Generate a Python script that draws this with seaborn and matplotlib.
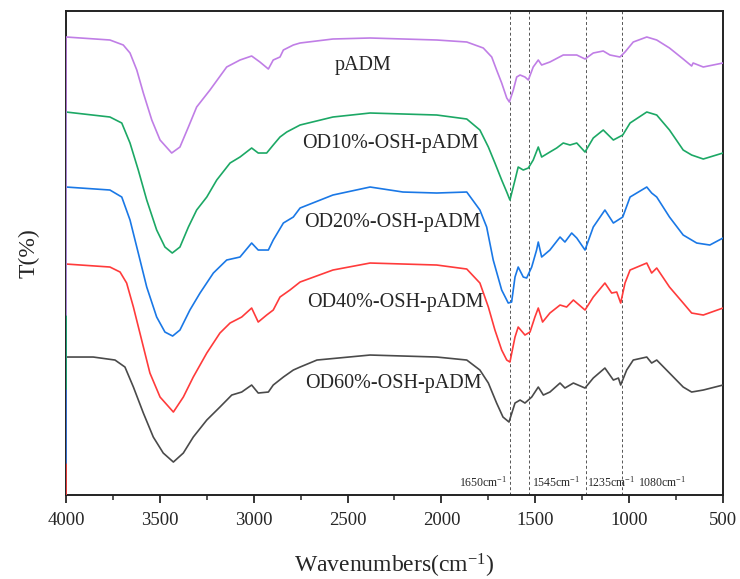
import numpy as np
import pandas as pd
import seaborn as sns
import matplotlib
matplotlib.use("Agg")
import matplotlib.pyplot as plt

# FTIR spectra (offset transmittance, arbitrary units)
wn_padm = [4000, 4000, 3766, 3695, 3659, 3623, 3588, 3543, 3499, 3437, 3393, 3348, 3304, 3233, 3144,
           3073, 3011, 2967, 2922, 2896, 2860, 2842, 2789, 2753, 2578, 2380, 2025, 1865, 1777, 1732,
           1706, 1679, 1652, 1638, 1617, 1599, 1581, 1555, 1537, 1511, 1484, 1466, 1422, 1351, 1279,
           1235, 1191, 1138, 1102, 1049, 1022, 978, 906, 853, 785, 712, 667, 659, 605, 500]
t_padm = [180, 458, 455, 450, 442, 425, 402, 375, 355, 342, 348, 368, 388, 405, 428,
          435, 439, 433, 426, 435, 438, 445, 450, 452, 456, 457, 455, 453, 447, 438,
          425, 412, 397, 393, 405, 418, 420, 418, 415, 428, 435, 430, 433, 440, 440,
          436, 442, 444, 440, 438, 443, 453, 458, 455, 447, 436, 429, 432, 428, 432]

wn_od10 = [4000, 4000, 3766, 3703, 3659, 3615, 3570, 3517, 3473, 3434, 3393, 3348, 3304, 3250, 3197,
           3126, 3073, 3011, 2976, 2931, 2896, 2860, 2824, 2753, 2578, 2380, 2025, 1865, 1795, 1750,
           1715, 1679, 1652, 1635, 1608, 1591, 1564, 1537, 1511, 1484, 1466, 1422, 1386, 1351, 1315,
           1279, 1235, 1191, 1138, 1084, 1034, 995, 906, 853, 785, 712, 667, 605, 500]
t_od10 = [106, 383, 378, 372, 352, 325, 295, 265, 248, 242, 248, 268, 285, 298, 315,
          332, 338, 347, 342, 342, 350, 358, 363, 370, 378, 382, 380, 376, 365, 348,
          332, 315, 303, 295, 315, 328, 325, 327, 335, 348, 338, 343, 347, 352, 350,
          352, 343, 357, 365, 355, 360, 372, 383, 380, 365, 345, 340, 336, 342]

wn_od20 = [4000, 4000, 3766, 3703, 3659, 3615, 3570, 3517, 3473, 3432, 3393, 3340, 3286, 3215, 3144,
           3073, 3011, 2976, 2922, 2896, 2842, 2789, 2753, 2578, 2380, 2205, 2025, 1865, 1795, 1759,
           1724, 1679, 1644, 1626, 1608, 1591, 1564, 1546, 1519, 1493, 1484, 1466, 1422, 1368, 1342,
           1306, 1279, 1235, 1191, 1129, 1084, 1034, 995, 906, 880, 853, 785, 712, 640, 570, 500]
t_od20 = [32, 308, 305, 298, 275, 242, 208, 178, 163, 159, 165, 185, 202, 222, 235,
          238, 252, 245, 245, 255, 272, 278, 287, 300, 308, 303, 302, 303, 285, 268,
          235, 205, 192, 193, 218, 228, 218, 217, 228, 245, 253, 238, 245, 258, 253,
          262, 257, 245, 268, 285, 272, 278, 298, 308, 302, 298, 278, 260, 252, 250, 257]

wn_od40 = [4000, 4000, 3766, 3712, 3677, 3641, 3597, 3553, 3499, 3428, 3375, 3322, 3250, 3180, 3126,
           3064, 3011, 2976, 2931, 2896, 2860, 2807, 2753, 2578, 2380, 2025, 1865, 1795, 1750, 1715,
           1679, 1652, 1635, 1608, 1591, 1555, 1528, 1502, 1484, 1461, 1422, 1368, 1333, 1297, 1235,
           1191, 1129, 1093, 1066, 1045, 1022, 995, 906, 880, 853, 785, 712, 667, 605, 500]
t_od40 = [-45, 231, 228, 223, 212, 188, 155, 122, 98, 83, 98, 118, 142, 162, 172,
          178, 187, 173, 180, 185, 198, 205, 213, 225, 232, 230, 226, 212, 188, 165,
          145, 135, 133, 158, 168, 160, 163, 178, 187, 173, 182, 190, 188, 195, 185,
          198, 212, 202, 203, 192, 212, 225, 232, 222, 227, 208, 192, 182, 180, 187]

wn_od60 = [4000, 4000, 3855, 3739, 3686, 3641, 3588, 3535, 3482, 3428, 3375, 3322, 3250, 3180, 3117,
           3064, 3011, 2976, 2922, 2896, 2842, 2789, 2753, 2663, 2380, 2025, 1865, 1795, 1750, 1706,
           1672, 1640, 1608, 1581, 1555, 1519, 1484, 1457, 1422, 1368, 1342, 1297, 1235, 1191, 1129,
           1084, 1057, 1045, 1013, 978, 906, 880, 853, 785, 712, 667, 605, 500]
t_od60 = [-140, 138, 138, 135, 128, 108, 82, 58, 42, 33, 42, 58, 75, 88, 100,
          103, 110, 102, 103, 110, 118, 125, 128, 135, 140, 138, 135, 125, 112, 92,
          78, 73, 92, 95, 92, 98, 108, 100, 103, 112, 107, 112, 107, 117, 127,
          115, 117, 110, 125, 135, 138, 132, 135, 122, 108, 103, 105, 110]

samples = ["OD60%-OSH-pADM", "OD40%-OSH-pADM", "OD20%-OSH-pADM", "OD10%-OSH-pADM", "pADM"]
colors = ["#4a4a4a", "#ff3b3b", "#1a78e6", "#1ca865", "#c07ee6"]
label_wn = [2258, 2247, 2263, 2274, 2418]
label_t = [112, 193, 273, 352, 430]

peak_pos = [1636, 1536, 1232, 1036]
peak_txt = ["1650cm$^{-1}$", "1545cm$^{-1}$", "1235cm$^{-1}$", "1080cm$^{-1}$"]
peak_txt_x = [1651, 1515, 1224, 953]

frames = []
for name, wn, t in zip(samples, [wn_od60, wn_od40, wn_od20, wn_od10, wn_padm],
                       [t_od60, t_od40, t_od20, t_od10, t_padm]):
    frames.append(pd.DataFrame({"wn": wn, "T": t, "sample": name}))
df = pd.concat(frames, ignore_index=True)

sns.set_style("ticks")
plt.rcParams["font.family"] = ["Liberation Serif", "DejaVu Serif"]
plt.rcParams["mathtext.fontset"] = "custom"
plt.rcParams["mathtext.rm"] = "Liberation Serif"
plt.rcParams["mathtext.it"] = "Liberation Serif:italic"

fig = plt.figure(figsize=(7.4, 5.79), dpi=100)
ax = fig.add_axes([0.0892, 0.145, 0.8878, 0.836])

sns.lineplot(data=df, x="wn", y="T", hue="sample", hue_order=samples, palette=colors,
             estimator=None, sort=False, legend=False, lw=1.2, zorder=3, ax=ax)

for x in peak_pos:
    ax.axvline(x, color="#555555", lw=0.7, ls=(0, (3, 2.5)), zorder=1)

for name, x, y in zip(samples, label_wn, label_t):
    ax.text(x, y, name, ha="center", va="center", fontsize=14.5)

# peak labels: first one sits left of its line, the rest to the right
trans = ax.get_xaxis_transform()
for i, (x, s) in enumerate(zip(peak_txt_x, peak_txt)):
    ax.text(x, 0.012, s, transform=trans, ha="right" if i == 0 else "left",
            va="bottom", fontsize=8.5)

ax.set_xlim(4000, 500)
ax.set_ylim(0, 484)
ax.set_xticks([4000, 3500, 3000, 2500, 2000, 1500, 1000, 500])
ax.set_xticks(np.arange(3750, 500, -500), minor=True)
ax.set_yticks([])
ax.tick_params(axis="x", which="major", direction="out", length=6, width=1.3, labelsize=13.5, pad=6)
ax.tick_params(axis="x", which="minor", direction="out", length=3.5, width=1.1)
for sp in ax.spines.values():
    sp.set_visible(True)
    sp.set_linewidth(1.4)
    sp.set_color("#222222")

ax.set_xlabel("Wavenumbers(cm$^{-1}$)", fontsize=17, labelpad=17)
ax.set_ylabel("T(%)", fontsize=17, labelpad=19)

fig.savefig("out.png", dpi=100)
